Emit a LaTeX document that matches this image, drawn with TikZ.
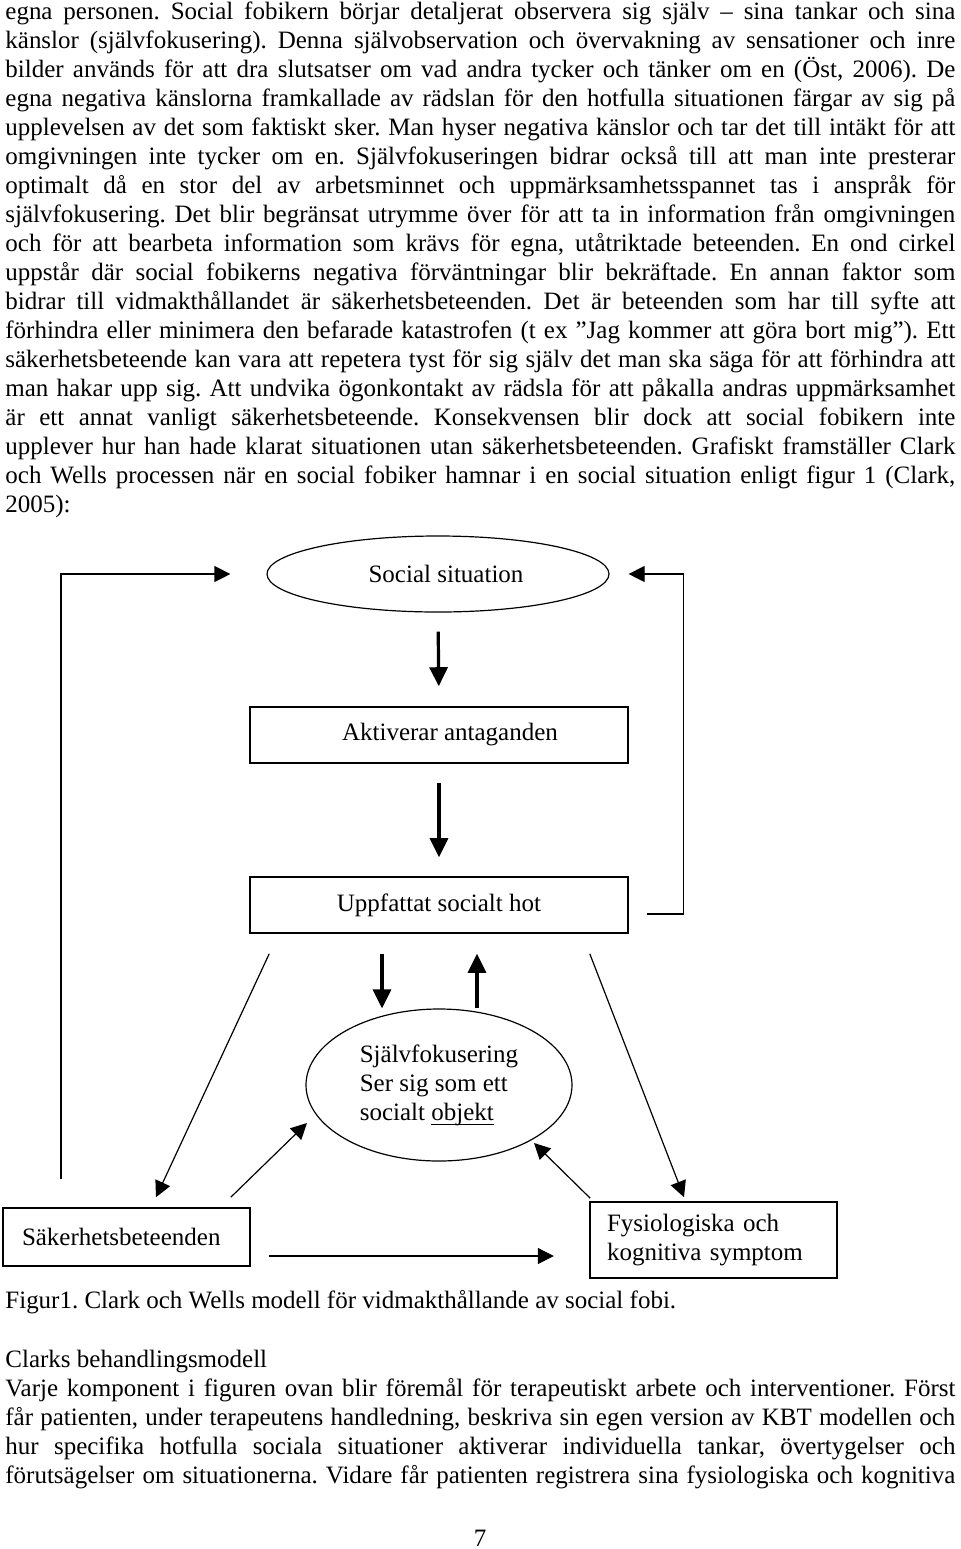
\documentclass[tikz,border=0pt]{standalone}
\usepackage{fontspec}
\setmainfont{Liberation Serif}[Ligatures={TeX,NoCommon}]
\usetikzlibrary{shapes.geometric,arrows.meta}
\frenchspacing

% underline at a fixed depth, as a word processor draws it
\newsavebox\ulbox
\newcommand{\wordul}[1]{\sbox\ulbox{#1}\rlap{\usebox\ulbox}\rule[-2.2pt]{\wd\ulbox}{0.5pt}}

\tikzset{
  rectbox/.style={draw,line width=0.8pt,minimum width=189pt,minimum height=28pt,inner sep=2pt},
  oval/.style={draw,ellipse,line width=0.6pt,inner sep=0pt},
  fatarrow/.style={line width=1.6pt,-{Triangle[width=9pt,length=9.5pt]}},
  slimarrow/.style={line width=0.6pt,-{Triangle[width=8pt,length=8pt]}},
  bodytext/.style={anchor=base west,inner sep=0pt,text width=475pt,align=justify},
  plaintext/.style={anchor=base west,inner sep=0pt}
}

\begin{document}
\begin{tikzpicture}[x=0.5pt,y=-0.5pt,font=\fontsize{12.5pt}{14.5pt}\selectfont]
\useasboundingbox (0,0) rectangle (960,1549);

% text above the figure
\node[bodytext] (para) at (5,19) {egna personen. Social fobikern börjar detaljerat observera sig själv – sina tankar och sina\linebreak
känslor (självfokusering). Denna självobservation och övervakning av sensationer och inre\linebreak
bilder används för att dra slutsatser om vad andra tycker och tänker om en (Öst, 2006). De\linebreak
egna negativa känslorna framkallade av rädslan för den hotfulla situationen färgar av sig på\linebreak
upplevelsen av det som faktiskt sker. Man hyser negativa känslor och tar det till intäkt för att\linebreak
omgivningen inte tycker om en. Självfokuseringen bidrar också till att man inte presterar\linebreak
optimalt då en stor del av arbetsminnet och uppmärksamhetsspannet tas i anspråk för\linebreak
självfokusering. Det blir begränsat utrymme över för att ta in information från omgivningen\linebreak
och för att bearbeta information som krävs för egna, utåtriktade beteenden. En ond cirkel\linebreak
uppstår där social fobikerns negativa förväntningar blir bekräftade. En annan faktor som\linebreak
bidrar till vidmakthållandet är säkerhetsbeteenden. Det är beteenden som har till syfte att\linebreak
förhindra eller minimera den befarade katastrofen (t ex ”Jag kommer att göra bort mig”). Ett\linebreak
säkerhetsbeteende kan vara att repetera tyst för sig själv det man ska säga för att förhindra att\linebreak
man hakar upp sig. Att undvika ögonkontakt av rädsla för att påkalla andras uppmärksamhet\linebreak
är ett annat vanligt säkerhetsbeteende. Konsekvensen blir dock att social fobikern inte\linebreak
upplever hur han hade klarat situationen utan säkerhetsbeteenden. Grafiskt framställer Clark\linebreak
och Wells processen när en social fobiker hamnar i en social situation enligt figur 1 (Clark,\linebreak
2005):};

% figure
\node[oval,minimum width=171pt,minimum height=38pt] (sit) at (438,574) {\hspace*{8pt}Social situation};
\node[rectbox] (akt) at (439,735) {\hspace*{11pt}Aktiverar antaganden};
\node[rectbox] (hot) at (439,905) {Uppfattat socialt hot};
\node[oval,minimum width=133pt,minimum height=76pt,align=left] (self) at (439,1085) {Självfokusering\\Ser sig som ett\\socialt \wordul{objekt}};
\node[rectbox,minimum width=123.5pt,minimum height=29pt,inner xsep=9.5pt,text width=104.5pt,align=left] (sak) at (126.5,1237) {Säkerhetsbeteenden};
\node[rectbox,minimum width=123.5pt,minimum height=38pt,inner xsep=8.5pt,text width=106.5pt,align=left] (fys) at (713.5,1240) {Fysiologiska och\\kognitiva symptom};

\draw[fatarrow,shorten <=9.5pt,shorten >=10pt] (sit.south) -- (akt.north);
\draw[fatarrow,shorten <=9.5pt,shorten >=9.5pt] (akt.south) -- (hot.north);
\draw[fatarrow] ([xshift=-28.5pt,yshift=-10pt]hot.south) -- ([xshift=-28.5pt]hot.south |- self.north);
\draw[fatarrow] ([xshift=19pt]hot.south |- self.north) -- ([xshift=19pt,yshift=-10pt]hot.south);

\draw[slimarrow] ([xshift=-32.75pt,yshift=14pt]sak.north) |- ([xshift=-18pt]sit.west);
\draw[slimarrow] ([xshift=9pt,yshift=-4.5pt]hot.east) -- ++(18.5pt,0) |- ([xshift=9.5pt]sit.east);
\draw[slimarrow] ([xshift=10pt,yshift=-10pt]hot.south west) -- ([xshift=14.75pt,yshift=5pt]sak.north);
\draw[slimarrow] ([xshift=-19.5pt,yshift=-10pt]hot.south east) -- ([xshift=-14.75pt,yshift=2pt]fys.north);
\draw[slimarrow] ([xshift=-10pt,yshift=5pt]sak.north east) -- ([xshift=-66pt,yshift=-19pt]self.center);
\draw[slimarrow] ([xshift=0.5pt,yshift=1.5pt]fys.north west) -- ([xshift=47.5pt,yshift=-29pt]self.center);
\draw[slimarrow] ([xshift=9pt,yshift=-9.5pt]sak.east) -- ++(285,0);

% caption and text below
\node[plaintext] (cap) at (5,1308) {Figur1. Clark och Wells modell för vidmakthållande av social fobi.};
\node[plaintext] (head) at (5,1367) {Clarks behandlingsmodell};
\node[bodytext] (para2) at (5,1396) {Varje komponent i figuren ovan blir föremål för terapeutiskt arbete och interventioner. Först\linebreak
får patienten, under terapeutens handledning, beskriva sin egen version av KBT modellen och\linebreak
hur specifika hotfulla sociala situationer aktiverar individuella tankar, övertygelser och\linebreak
förutsägelser om situationerna. Vidare får patienten registrera sina fysiologiska och kognitiva\linebreak};
\node[anchor=base,inner sep=0pt] (pg) at (480,1546) {7};
\end{tikzpicture}
\end{document}
